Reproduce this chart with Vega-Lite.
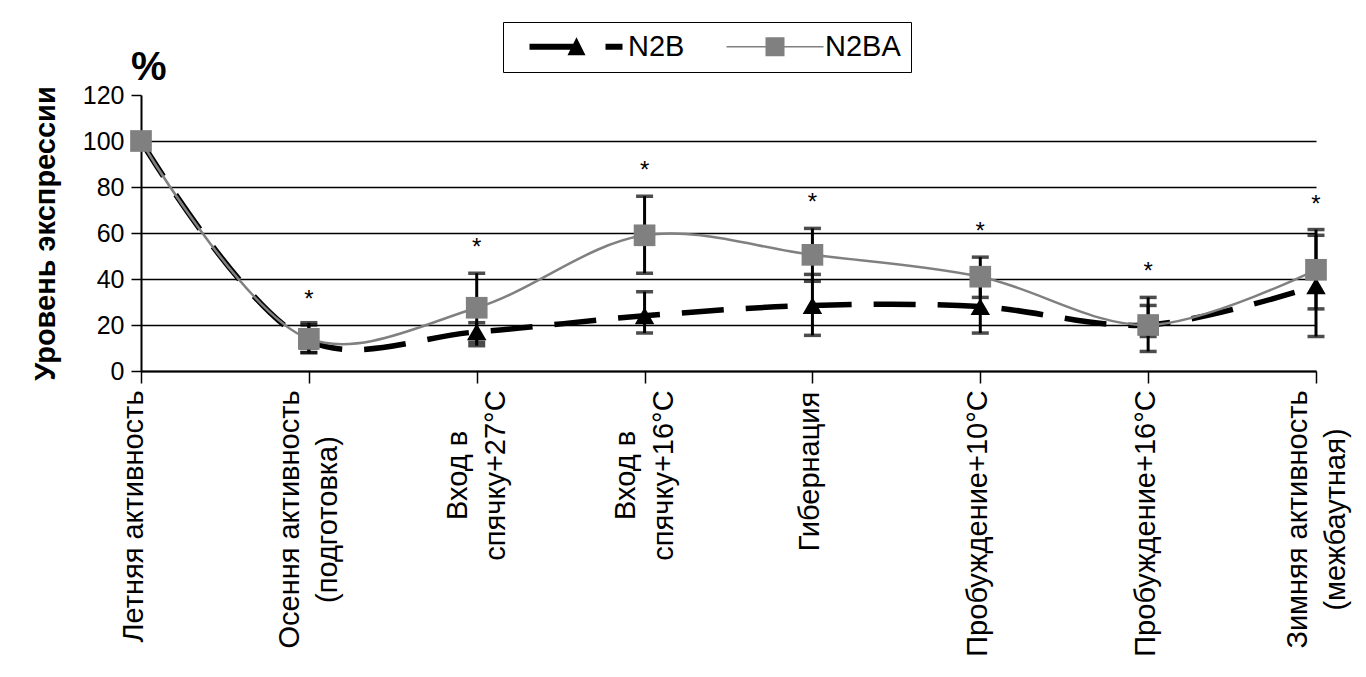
{
  "$schema": "https://vega.github.io/schema/vega-lite/v6.json",
  "autosize": {"type": "none"},
  "width": 1175,
  "height": 276,
  "padding": {"left": 141, "top": 95, "right": 50, "bottom": 306},
  "background": "white",
  "config": {
    "view": {"stroke": null},
    "font": "Liberation Sans",
    "title": {"color": "black"},
    "legend": {
      "title": null,
      "orient": "none",
      "legendX": 362,
      "legendY": -73,
      "direction": "horizontal",
      "strokeColor": "black",
      "fillColor": "white",
      "padding": 10,
      "symbolSize": 400,
      "symbolOffset": 12,
      "symbolOpacity": 1,
      "symbolStrokeWidth": 0,
      "labelFont": "Liberation Sans",
      "labelFontSize": 29,
      "labelColor": "black",
      "labelOffset": 74,
      "columnPadding": 25
    }
  },
  "title": {
    "text": "%",
    "anchor": "start",
    "frame": "group",
    "font": "Liberation Sans",
    "fontSize": 40,
    "fontWeight": "bold",
    "baseline": "alphabetic",
    "offset": 15,
    "dx": -10,
    "dy": 113
  },
  "data": {
    "values": [
      {"stage": "Летняя активность", "series": "N2B", "value": 100, "low": null, "high": null, "sig": ""},
      {"stage": "Летняя активность", "series": "N2BA", "value": 100, "low": null, "high": null, "sig": ""},
      {"stage": "Осення активность\n(подготовка)", "series": "N2B", "value": 13, "low": 8, "high": 21, "sig": ""},
      {"stage": "Осення активность\n(подготовка)", "series": "N2BA", "value": 14, "low": 8, "high": 20, "sig": "*"},
      {"stage": "Вход в\nспячку+27°C", "series": "N2B", "value": 17, "low": 11, "high": 21, "sig": ""},
      {"stage": "Вход в\nспячку+27°C", "series": "N2BA", "value": 27.5, "low": 12.5, "high": 42.5, "sig": "*"},
      {"stage": "Вход в\nспячку+16°C", "series": "N2B", "value": 24, "low": 16.5, "high": 34.5, "sig": ""},
      {"stage": "Вход в\nспячку+16°C", "series": "N2BA", "value": 59, "low": 42.5, "high": 76, "sig": "*"},
      {"stage": "Гибернация", "series": "N2B", "value": 28.5, "low": 15.5, "high": 42, "sig": ""},
      {"stage": "Гибернация", "series": "N2BA", "value": 50.5, "low": 39, "high": 62, "sig": "*"},
      {"stage": "Пробуждение+10°C", "series": "N2B", "value": 28, "low": 16.5, "high": 39.5, "sig": ""},
      {"stage": "Пробуждение+10°C", "series": "N2BA", "value": 41, "low": 32, "high": 49.5, "sig": "*"},
      {"stage": "Пробуждение+16°C", "series": "N2B", "value": 20, "low": 15, "high": 28.5, "sig": ""},
      {"stage": "Пробуждение+16°C", "series": "N2BA", "value": 20, "low": 8.5, "high": 32, "sig": "*"},
      {"stage": "Зимняя активность\n(межбаутная)", "series": "N2B", "value": 37, "low": 15, "high": 59, "sig": ""},
      {"stage": "Зимняя активность\n(межбаутная)", "series": "N2BA", "value": 44, "low": 27, "high": 61.5, "sig": "*"}
    ]
  },
  "encoding": {
    "x": {
      "field": "stage",
      "type": "nominal",
      "sort": null,
      "scale": {"type": "point", "padding": 0},
      "axis": {
        "title": null,
        "domainColor": "black",
        "domainWidth": 2,
        "tickColor": "black",
        "tickWidth": 1.5,
        "tickSize": 12,
        "labelAngle": 270,
        "labelAlign": "center",
        "labelBaseline": "middle",
        "labelFont": "Liberation Sans",
        "labelFontSize": 29,
        "labelLineHeight": 38,
        "labelColor": "black",
        "labelLimit": 0,
        "labelFlush": false,
        "labelExpr": "split(datum.label, '\\n')",
        "labelOffset": {
          "condition": [
            {"test": "indexof(datum.value, '\\n') >= 0", "value": -19},
            {"test": "indexof(datum.value, 'Летняя') >= 0", "value": -8}
          ],
          "value": -3
        },
        "labelPadding": {
          "condition": [
            {"test": "indexof(datum.value, 'Вход') >= 0", "value": 92},
            {"test": "indexof(datum.value, 'Гибернация') >= 0", "value": 88},
            {"test": "indexof(datum.value, 'Пробуждение') >= 0", "value": 140},
            {"test": "indexof(datum.value, 'Летняя') >= 0", "value": 133}
          ],
          "value": 136
        },
        "encode": {"ticks": {"y": {"value": -8}}}
      }
    }
  },
  "layer": [
    {
      "transform": [{"filter": "datum.series === 'N2B'"}],
      "mark": {"type": "line", "interpolate": "catmull-rom", "color": "black", "strokeWidth": 5.5, "strokeDash": [42, 22]},
      "encoding": {
        "y": {
          "field": "value",
          "type": "quantitative",
          "scale": {"domain": [0, 120], "nice": false},
          "axis": {
            "title": "Уровень экспрессии",
            "titleFont": "Liberation Sans",
            "titleFontSize": 29,
            "titleFontWeight": "bold",
            "titleColor": "black",
            "titlePadding": 22,
            "values": [0, 20, 40, 60, 80, 100, 120],
            "domainColor": "black",
            "domainWidth": 2,
            "tickColor": "black",
            "tickWidth": 1.5,
            "tickSize": 10,
            "labelFont": "Liberation Sans",
            "labelFontSize": 25,
            "labelColor": "black",
            "labelPadding": 7,
            "grid": true,
            "gridColor": "black",
            "gridWidth": 1.5,
            "gridOpacity": {"condition": {"test": "datum.value === 120", "value": 0}, "value": 1}
          }
        }
      }
    },
    {
      "transform": [{"filter": "datum.series === 'N2BA'"}],
      "mark": {"type": "line", "interpolate": "catmull-rom", "color": "#808080", "strokeWidth": 2.5},
      "encoding": {"y": {"field": "value", "type": "quantitative"}}
    },
    {
      "mark": {"type": "rule", "color": "black", "strokeWidth": 3},
      "encoding": {
        "y": {"field": "low", "type": "quantitative"},
        "y2": {"field": "high"}
      }
    },
    {
      "mark": {"type": "tick", "color": "black", "size": 17, "thickness": 3.5, "orient": "horizontal"},
      "encoding": {"y": {"field": "low", "type": "quantitative"}}
    },
    {
      "mark": {"type": "tick", "color": "black", "size": 17, "thickness": 3.5, "orient": "horizontal"},
      "encoding": {"y": {"field": "high", "type": "quantitative"}}
    },
    {
      "transform": [{"filter": "datum.series === 'N2B'"}],
      "mark": {"type": "point", "shape": "triangle-up", "filled": true, "color": "black", "size": 380, "opacity": 1},
      "encoding": {"y": {"field": "value", "type": "quantitative"}}
    },
    {
      "transform": [{"filter": "datum.series === 'N2BA'"}],
      "mark": {"type": "point", "shape": "square", "filled": true, "color": "#808080", "size": 470, "opacity": 1},
      "encoding": {"y": {"field": "value", "type": "quantitative"}}
    },
    {
      "transform": [{"filter": "datum.series === 'N2BA'"}],
      "mark": {"type": "point", "filled": true, "opacity": 0, "size": 1},
      "encoding": {
        "y": {"field": "value", "type": "quantitative"},
        "color": {
          "field": "series",
          "type": "nominal",
          "scale": {"domain": ["N2B", "N2BA"], "range": ["black", "#808080"]}
        },
        "shape": {
          "field": "series",
          "type": "nominal",
          "scale": {
            "domain": ["N2B", "N2BA"],
            "range": [
              "M-1,-0.3H3.4V0.3H-1Z M3.7,-0.95L4.6,0.85H2.8Z M6.6,-0.3H8.3V0.3H6.6Z",
              "M-1,-0.08H8.7V0.08H-1Z M2.9,-0.95H4.8V0.95H2.9Z"
            ]
          }
        }
      }
    },
    {
      "transform": [{"filter": "datum.sig === '*'"}],
      "mark": {"type": "text", "text": "*", "fontSize": 24, "color": "black", "baseline": "alphabetic", "dy": -18, "font": "Liberation Sans"},
      "encoding": {"y": {"field": "high", "type": "quantitative"}}
    }
  ]
}
